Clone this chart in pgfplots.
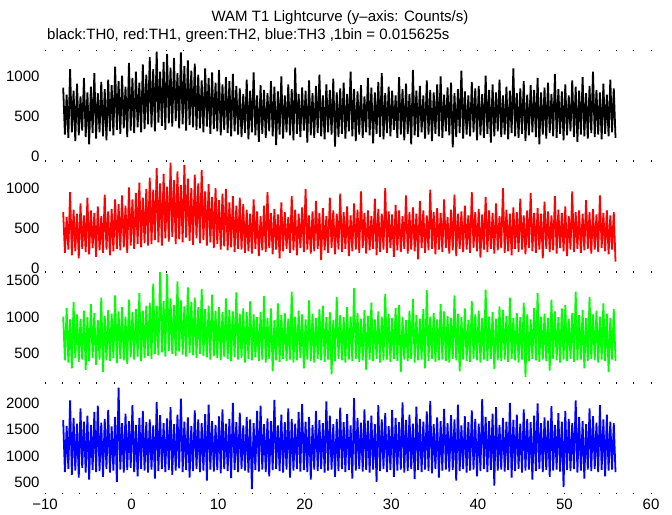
\documentclass[border=0pt]{standalone}
\usepackage{fontspec}
\setmainfont{Liberation Sans}
\usepackage{pgfplots}
\pgfplotsset{compat=1.18}
\definecolor{idlgreen}{RGB}{0,255,0}
\definecolor{idlred}{RGB}{255,0,0}
\definecolor{idlblue}{RGB}{0,0,255}

\pgfplotsset{
  panel/.style={
    anchor=north west,
    scale only axis, width=606bp, height=111bp,
    xmin=-10, xmax=60,
    axis line style={draw=none},
    xtick={-10,0,...,60}, minor x tick num=4,
    xtick pos=both, ytick pos=left,
    tick align=inside,
    x tick style={black, line width=0.9bp},
    y tick style={draw=none},
    major tick length=1.2bp, minor tick length=1.2bp,
    xticklabels={},
    /pgf/number format/assume math mode=true,
    /pgf/number format/1000 sep={},
    ticklabel style={font=\fontsize{15bp}{18bp}\selectfont},
    yticklabel style={xshift=-2bp},
    xticklabel style={yshift=-2bp},
  },
  trace/.style={line width=1.8bp, line join=bevel},
}

\begin{document}
\begin{tikzpicture}
\path[use as bounding box] (-45bp,50bp) rectangle (627bp,-465bp);

\node[anchor=base, font=\fontsize{15bp}{18bp}\selectfont] at (295bp,29bp)
  {WAM T1 Lightcurve (y–axis: Counts/s)};
\node[anchor=base west, inner sep=0pt, font=\fontsize{15bp}{18bp}\selectfont] at (2bp,11bp)
  {black:TH0, red:TH1, green:TH2, blue:TH3 ,1bin = 0.015625s};

% TH0 (black), bins of 0.2 s from -7.9 s
\begin{axis}[panel, at={(0bp,0bp)}, ymin=-60, ymax=1330, ytick={0,500,1000}]
\addplot[trace, black] table[row sep=\\, x expr=\coordindex*0.2-7.9, y=y] {y\\
860\\270\\770\\230\\1090\\300\\820\\190\\910\\260\\750\\320\\980\\240\\800\\150\\870\\290\\1040\\220\\790\\300\\930\\250\\840\\200\\
960\\310\\890\\260\\1120\\330\\940\\280\\1010\\350\\870\\240\\1170\\320\\980\\290\\1060\\360\\920\\300\\
1150\\340\\1020\\400\\1240\\360\\1090\\310\\1310\\420\\1060\\380\\1180\\330\\1280\\410\\1110\\370\\1230\\440\\1040\\350\\1300\\400\\1130\\320\\1200\\390\\1070\\360\\1160\\330\\
1020\\350\\950\\300\\1100\\370\\980\\280\\1050\\340\\920\\310\\1080\\260\\900\\330\\990\\290\\940\\250\\1030\\310\\880\\270\\
850\\240\\780\\290\\960\\210\\820\\300\\1050\\260\\760\\180\\890\\280\\830\\230\\790\\310\\940\\250\\
870\\140\\810\\270\\1000\\220\\760\\300\\900\\260\\840\\200\\1110\\280\\780\\240\\860\\320\\820\\170\\
950\\260\\790\\230\\880\\290\\1020\\250\\760\\210\\900\\300\\830\\270\\970\\120\\800\\240\\850\\280\\
920\\220\\780\\310\\1060\\250\\840\\190\\810\\270\\890\\230\\750\\300\\980\\260\\860\\160\\800\\280\\
930\\240\\1040\\210\\790\\290\\870\\250\\820\\330\\760\\230\\990\\270\\840\\200\\910\\280\\780\\150\\
1080\\260\\820\\240\\880\\300\\760\\220\\950\\270\\830\\190\\800\\280\\900\\250\\1000\\230\\770\\310\\
860\\260\\920\\110\\790\\240\\840\\290\\1070\\220\\810\\270\\760\\250\\930\\300\\850\\200\\880\\260\\
780\\230\\1010\\280\\830\\170\\900\\250\\800\\310\\960\\240\\760\\270\\870\\210\\820\\290\\1100\\250\\
790\\230\\850\\280\\940\\190\\770\\260\\890\\300\\830\\240\\980\\150\\800\\270\\860\\220\\920\\290\\
780\\250\\1030\\230\\840\\280\\810\\200\\900\\260\\760\\310\\950\\240\\870\\180\\820\\270\\990\\250\\
790\\220\\880\\290\\1060\\240\\830\\270\\800\\210\\910\\280\\770\\250\\960\\300\\850\\230\\};
\end{axis}

% TH1 (red)
\begin{axis}[panel, at={(0bp,-111bp)}, ymin=-50, ymax=1340, ytick={0,500,1000}]
\addplot[trace, idlred] table[row sep=\\, x expr=\coordindex*0.2-7.9, y=y] {y\\
700\\190\\640\\230\\950\\160\\730\\210\\680\\120\\810\\240\\660\\200\\880\\170\\720\\250\\690\\140\\770\\220\\650\\190\\920\\230\\710\\160\\740\\210\\860\\240\\
800\\220\\910\\260\\780\\190\\1010\\280\\860\\240\\940\\300\\1070\\260\\880\\310\\990\\280\\
1130\\300\\980\\350\\1250\\320\\1060\\280\\1180\\370\\1020\\330\\1320\\390\\1100\\300\\1210\\360\\1040\\320\\1290\\380\\1120\\340\\1000\\290\\1170\\370\\1060\\310\\1230\\350\\
960\\280\\1050\\320\\890\\250\\1000\\300\\850\\230\\930\\270\\990\\220\\820\\260\\900\\200\\780\\240\\880\\230\\800\\190\\
730\\210\\680\\180\\860\\240\\710\\150\\650\\220\\780\\200\\950\\250\\690\\170\\740\\230\\670\\120\\
820\\210\\700\\240\\640\\190\\900\\220\\730\\160\\680\\250\\760\\200\\990\\230\\660\\180\\710\\210\\
840\\240\\690\\100\\750\\220\\650\\190\\880\\250\\720\\170\\680\\230\\930\\200\\700\\240\\770\\150\\
660\\210\\810\\230\\730\\190\\960\\250\\690\\180\\720\\220\\650\\240\\870\\160\\740\\200\\680\\230\\
1000\\190\\710\\250\\670\\140\\790\\220\\720\\200\\650\\240\\910\\180\\700\\230\\760\\210\\680\\110\\
840\\250\\720\\190\\660\\220\\980\\240\\700\\170\\750\\230\\690\\200\\860\\250\\640\\180\\730\\220\\
920\\150\\680\\240\\710\\200\\780\\230\\660\\190\\950\\250\\700\\210\\740\\130\\670\\230\\890\\200\\
720\\240\\690\\180\\810\\220\\650\\250\\1000\\190\\730\\210\\680\\160\\760\\240\\700\\200\\870\\230\\
660\\170\\720\\250\\940\\210\\690\\190\\750\\230\\680\\120\\830\\240\\710\\200\\660\\220\\900\\180\\
730\\250\\690\\210\\770\\150\\650\\230\\960\\200\\700\\240\\720\\190\\
680\\220\\850\\240\\700\\180\\740\\230\\670\\200\\910\\250\\690\\210\\720\\170\\660\\230\\700\\80\\};
\end{axis}

% TH2 (green)
\begin{axis}[panel, at={(0bp,-222bp)}, ymin=100, ymax=1620, ytick={500,1000,1500}]
\addplot[trace, idlgreen] table[row sep=\\, x expr=\coordindex*0.2-7.9, y=y] {y\\
1010\\410\\1130\\380\\970\\300\\1210\\440\\1040\\390\\980\\420\\1090\\280\\1000\\400\\1180\\440\\1060\\350\\960\\420\\1270\\250\\1020\\410\\
1100\\400\\1050\\440\\1300\\370\\1080\\430\\1140\\410\\1010\\360\\1240\\450\\1070\\420\\1110\\460\\1330\\400\\1090\\440\\1160\\470\\
1200\\430\\1460\\500\\1160\\480\\1650\\520\\1220\\460\\1590\\540\\1260\\500\\1170\\470\\1490\\530\\1230\\490\\1150\\460\\1410\\510\\1210\\480\\1270\\440\\1140\\500\\1390\\470\\
1110\\450\\1160\\420\\1310\\470\\1090\\440\\1140\\410\\1070\\460\\1260\\430\\1100\\400\\1080\\450\\1340\\420\\1050\\440\\1120\\380\\1070\\430\\1220\\410\\1040\\450\\
1000\\400\\1070\\420\\1290\\380\\990\\430\\1120\\260\\960\\410\\1190\\390\\1030\\430\\1060\\400\\980\\420\\
1350\\380\\1010\\410\\1090\\440\\1040\\300\\970\\420\\1230\\400\\1050\\380\\990\\430\\1110\\410\\1160\\390\\
1000\\420\\1070\\220\\960\\400\\1280\\430\\1030\\410\\1000\\380\\1140\\420\\1010\\400\\1400\\430\\1060\\390\\
980\\410\\1100\\280\\1020\\420\\1200\\400\\970\\430\\1080\\380\\1010\\410\\1320\\420\\1050\\390\\990\\430\\
1130\\400\\1170\\250\\1000\\420\\960\\400\\1090\\430\\1250\\380\\1030\\410\\980\\420\\1110\\300\\1370\\400\\
1010\\430\\1060\\390\\970\\410\\1180\\420\\1080\\400\\1020\\380\\990\\430\\1300\\410\\1050\\260\\1000\\420\\
1120\\400\\960\\390\\1220\\430\\1040\\410\\1090\\380\\990\\420\\1380\\400\\1010\\430\\1070\\290\\980\\410\\
1150\\400\\1100\\420\\1020\\390\\1270\\430\\990\\410\\1060\\380\\1000\\420\\1200\\180\\1040\\400\\970\\430\\
1130\\410\\1330\\390\\1010\\420\\1050\\400\\990\\270\\1240\\430\\1080\\410\\1000\\380\\1120\\420\\1170\\400\\
980\\430\\1060\\390\\1350\\410\\1030\\420\\1100\\300\\990\\400\\1280\\430\\1040\\410\\1090\\380\\1010\\420\\
1190\\400\\1050\\250\\990\\420\\1110\\400\\};
\end{axis}

% TH3 (blue)
\begin{axis}[panel, at={(0bp,-333bp)}, ymin=290, ymax=2375, ytick={500,1000,1500,2000},
  xticklabels={−10,0,10,20,30,40,50,60}]
\addplot[trace, idlblue] table[row sep=\\, x expr=\coordindex*0.2-7.9, y=y] {y\\
1680\\700\\1570\\760\\2050\\650\\1720\\730\\1610\\600\\1900\\780\\1650\\690\\1760\\560\\1590\\740\\1830\\700\\
1950\\720\\1630\\610\\1700\\760\\1870\\690\\1560\\730\\1740\\520\\2290\\750\\1620\\690\\1800\\740\\1660\\780\\
1960\\700\\1590\\620\\1720\\760\\1850\\730\\1640\\690\\1690\\750\\1580\\580\\2020\\720\\1770\\760\\1620\\700\\
1710\\740\\1920\\650\\1600\\730\\1780\\770\\2080\\700\\1650\\740\\1730\\600\\1570\\720\\1860\\760\\1690\\700\\
1620\\730\\1790\\540\\1970\\750\\1660\\710\\1590\\740\\1750\\680\\1880\\760\\1610\\720\\1700\\590\\2000\\740\\
1640\\700\\1820\\760\\1580\\730\\1740\\690\\1690\\380\\1620\\740\\1850\\710\\1950\\750\\1600\\700\\1710\\620\\
1660\\740\\2060\\760\\1580\\720\\1780\\690\\1640\\750\\1900\\600\\1700\\730\\1610\\760\\1830\\710\\1980\\740\\
1650\\700\\1740\\560\\1590\\750\\1850\\720\\1680\\760\\1620\\690\\2030\\730\\1760\\750\\1600\\610\\1700\\720\\
1910\\760\\1640\\700\\1790\\740\\1580\\580\\2090\\730\\1720\\760\\1630\\710\\1880\\740\\1670\\690\\1760\\750\\
1600\\520\\1960\\720\\1690\\760\\1810\\700\\1570\\740\\1870\\610\\1720\\730\\1640\\750\\2010\\690\\1680\\720\\
1780\\760\\1610\\570\\1930\\740\\1700\\700\\1650\\750\\1840\\720\\2040\\680\\1600\\760\\1730\\600\\1660\\730\\
1890\\750\\1620\\710\\1770\\740\\1690\\540\\1970\\720\\1580\\760\\1750\\690\\1640\\730\\1860\\750\\1700\\620\\
1610\\720\\2070\\760\\1740\\700\\1660\\740\\1800\\450\\1920\\730\\1590\\750\\1720\\710\\1650\\740\\2000\\600\\
1680\\720\\1780\\760\\1610\\690\\1880\\730\\1700\\750\\1640\\560\\1760\\720\\1990\\760\\1620\\700\\1730\\740\\
1670\\610\\1940\\730\\1590\\750\\1810\\710\\1650\\420\\1850\\740\\1700\\720\\1620\\760\\2050\\690\\1740\\730\\
1660\\580\\1600\\750\\1900\\720\\1750\\760\\1630\\700\\1960\\740\\1690\\620\\1780\\730\\1650\\750\\1620\\700\\};
\end{axis}
\end{tikzpicture}
\end{document}
